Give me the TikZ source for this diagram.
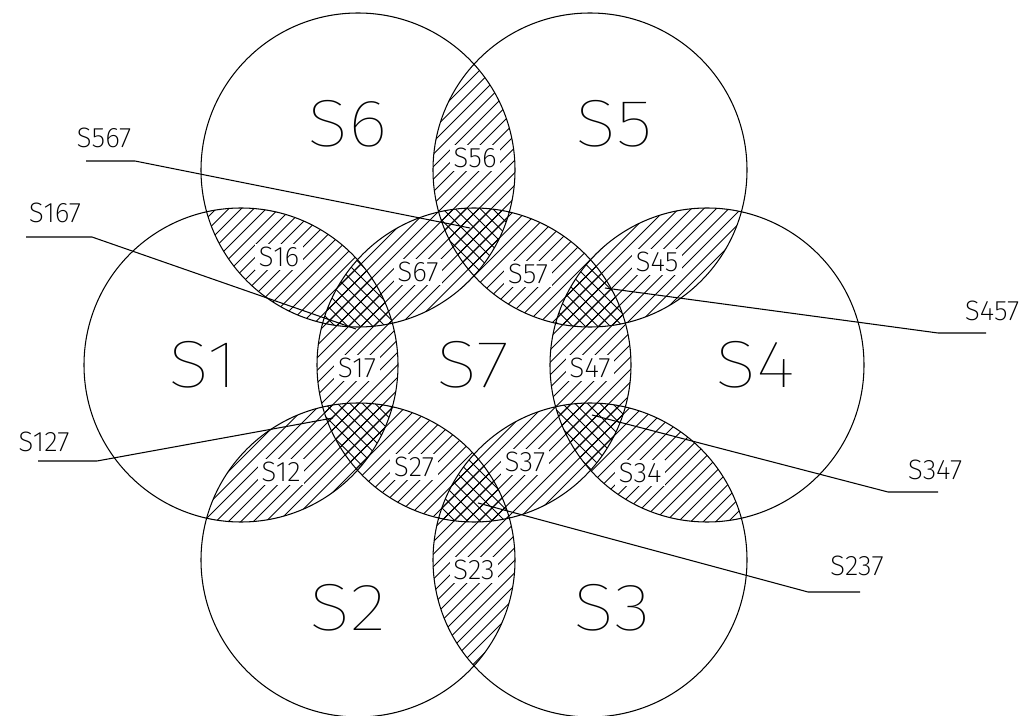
\documentclass[tikz,border=0pt]{standalone}
\usepackage{fontspec}
\setsansfont{Fira Sans Light}
\newfontfamily\thinfont{Fira Sans Thin}
\newfontfamily\xlightfont{Fira Sans ExtraLight}
\usepackage{tikz}
\usetikzlibrary{positioning}

\newcommand{\hatchfwd}{\foreach \a in {-716,-703.5,...,1040} \draw[hatchline] (\a,716) -- ++(716,-716);}
\newcommand{\hatchback}{\foreach \a in {-716,-703.5,...,1040} \draw[hatchline] (\a,0) -- ++(716,716);}

\begin{document}
\begin{tikzpicture}[x=0.02cm, y=-0.02cm]
    \tikzstyle{ring} = [draw, line width=0.6pt]
    \tikzstyle{hatchline} = [line width=0.45pt]
    \tikzstyle{leader} = [draw, line width=0.6pt]
    \tikzstyle{biglabel} = [font=\thinfont\fontsize{38}{38}\selectfont, xscale=1.15, inner sep=0pt]
    \tikzstyle{cutlabel} = [font=\xlightfont\fontsize{16}{16}\selectfont, fill=white, inner sep=2pt]
    \tikzstyle{tag} = [font=\xlightfont\fontsize{16}{16}\selectfont, inner sep=0pt]
    \def\R{157}

    \useasboundingbox (0,0) rectangle (1032,716);

    % circle centres
    \coordinate (c1) at (241,365);
    \coordinate (c2) at (358,560);
    \coordinate (c3) at (590,560);
    \coordinate (c4) at (707,365);
    \coordinate (c5) at (590,170);
    \coordinate (c6) at (358,170);
    \coordinate (c7) at (474,365);

    % pairwise overlaps
    \foreach \i/\j in {1/6,6/5,5/4,4/3,3/2,2/1,7/1,7/2,7/3,7/4,7/5,7/6} {
        \begin{scope}
            \clip (c\i) circle[radius=\R];
            \clip (c\j) circle[radius=\R];
            \hatchfwd
        \end{scope}
    }
    % triple overlaps
    \foreach \i/\j in {1/6,6/5,5/4,4/3,3/2,2/1} {
        \begin{scope}
            \clip (c7) circle[radius=\R];
            \clip (c\i) circle[radius=\R];
            \clip (c\j) circle[radius=\R];
            \hatchback
        \end{scope}
    }

    % overlap labels
    \node [cutlabel] (s56) at (475,158) {S56};
    \node [cutlabel] (s16) at (279,257) {S16};
    \node [cutlabel] (s67) at (418,272) {S67};
    \node [cutlabel] (s57) at (528,274) {S57};
    \node [cutlabel] (s45) at (657,262) {S45};
    \node [cutlabel] (s17) at (357,368) {S17};
    \node [cutlabel] (s47) at (590,368) {S47};
    \node [cutlabel] (s12) at (281,472) {S12};
    \node [cutlabel] (s27) at (414,467) {S27};
    \node [cutlabel] (s37) at (525,462) {S37};
    \node [cutlabel] (s34) at (640,473) {S34};
    \node [cutlabel] (s23) at (474,570) {S23};

    % circles
    \foreach \k in {1,...,7}
        \draw [ring] (c\k) circle[radius=\R];

    % set labels
    \node [biglabel] (n1) at (203,365) {S1};
    \node [biglabel] (n2) at (348,608) {S2};
    \node [biglabel] (n3) at (612,608) {S3};
    \node [biglabel] (n4) at (755,365) {S4};
    \node [biglabel] (n5) at (614,124) {S5};
    \node [biglabel] (n6) at (348,124) {S6};
    \node [biglabel] (n7) at (473,365) {S7};

    % leader tags
    \node [tag] (t567) at (104,138) {S567};
    \node [tag] (t167) at (55,213) {S167};
    \node [tag] (t127) at (44,442) {S127};
    \node [tag] (t457) at (992,311) {S457};
    \node [tag] (t347) at (935,470) {S347};
    \node [tag] (t237) at (857,566) {S237};

    \coordinate (u567a) at (86,161);  \coordinate (u567b) at (135,161); \coordinate (p567) at (470,228);
    \coordinate (u167a) at (26,237);  \coordinate (u167b) at (92,237);  \coordinate (p167) at (356,329);
    \coordinate (u127a) at (38,461);  \coordinate (u127b) at (97,461);  \coordinate (p127) at (333,418);
    \coordinate (u457a) at (986,333); \coordinate (u457b) at (938,333); \coordinate (p457) at (605,288);
    \coordinate (u347a) at (938,492); \coordinate (u347b) at (888,492); \coordinate (p347) at (592,415);
    \coordinate (u237a) at (860,592); \coordinate (u237b) at (808,592); \coordinate (p237) at (478,503);

    \foreach \t in {567,167,127,457,347,237}
        \path [leader] (u\t a) -- (u\t b) -- (p\t);
\end{tikzpicture}
\end{document}
